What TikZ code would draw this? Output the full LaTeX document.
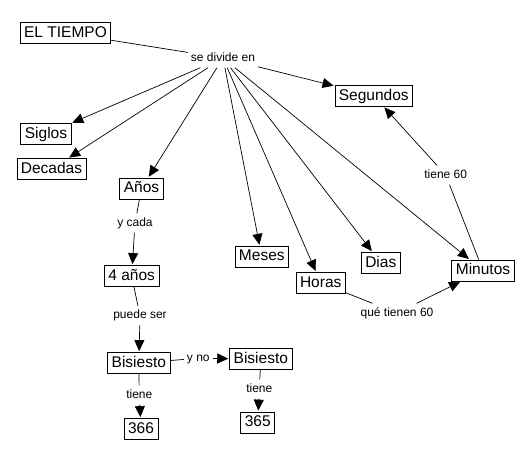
\documentclass[tikz,border=0pt]{standalone}
\usepackage{fontspec}
\setmainfont{Liberation Sans}
\usetikzlibrary{arrows.meta}
\begin{document}
\begin{tikzpicture}[x=1pt,y=-1pt,
  concept/.style={draw=black,line width=0.8pt,fill=white,font=\fontsize{15.5}{17}\selectfont,
    inner xsep=4pt,inner ysep=0pt,minimum height=21pt,text height=11.5pt,text depth=3pt},
  link/.style={font=\fontsize{12}{14}\selectfont,inner xsep=3pt,inner ysep=4pt,text height=8.5pt,text depth=2.5pt},
  conn/.style={line width=0.7pt,draw=black},
  arr/.style={conn,-{Triangle[length=11pt,width=10pt]},shorten >=1pt}]
\useasboundingbox (0,0) rectangle (532,461);
\fill[white] (0,0) rectangle (532,461);
% concepts
\node[concept] (tiempo) at (65.5,33) {EL TIEMPO};
\node[concept] (siglos) at (46,134) {Siglos};
\node[concept] (decadas) at (51.5,169) {Decadas};
\node[concept] (anos) at (141.5,188.5) {Años};
\node[concept] (cuatro) at (131.7,276) {4 años};
\node[concept] (bis1) at (138.8,363) {Bisiesto};
\node[concept] (bis2) at (260.8,359) {Bisiesto};
\node[concept] (t366) at (141,429) {366};
\node[concept] (t365) at (257.7,422.5) {365};
\node[concept] (meses) at (261.8,256.7) {Meses};
\node[concept] (horas) at (320.7,282.8) {Horas};
\node[concept] (dias) at (380.8,262.8) {Dias};
\node[concept] (minutos) at (483,270.5) {Minutos};
\node[concept] (segundos) at (373.8,95.8) {Segundos};
% linking phrases
\node[link] (divide) at (223,58) {se divide en};
\node[link] (ycada) at (135,223) {y cada};
\node[link] (puede) at (140,315.7) {puede ser};
\node[link] (yno) at (198.3,358.3) {y no};
\node[link] (tiene1) at (139.3,395) {tiene};
\node[link] (tiene2) at (259.3,389) {tiene};
\node[link] (tiene60) at (445.7,175) {tiene 60};
\node[link] (quetienen) at (397,313) {qué tienen 60};
% connectors
\draw[conn] (tiempo) -- (divide);
\draw[arr] (divide) -- (siglos);
\draw[arr] (divide) -- (decadas);
\draw[arr] (divide) -- (anos);
\draw[arr] (divide) -- (meses);
\draw[arr] (divide) -- (horas);
\draw[arr] (divide) -- (dias);
\draw[arr] (divide) -- (minutos);
\draw[arr] (divide) -- (segundos);
\draw[conn] (anos) -- (ycada);
\draw[arr] (ycada) -- (cuatro);
\draw[conn] (cuatro) -- (puede);
\draw[arr] (puede) -- (bis1);
\draw[conn] (bis1) -- (yno);
\draw[arr] (yno) -- (bis2);
\draw[conn] (bis1) -- (tiene1);
\draw[arr] (tiene1) -- (t366);
\draw[conn] (bis2) -- (tiene2);
\draw[arr] (tiene2) -- (t365);
\draw[conn] (minutos) -- (tiene60);
\draw[arr] (tiene60) -- (segundos);
\draw[conn] (horas) -- (quetienen);
\draw[arr] (quetienen) -- (minutos);
\end{tikzpicture}
\end{document}
